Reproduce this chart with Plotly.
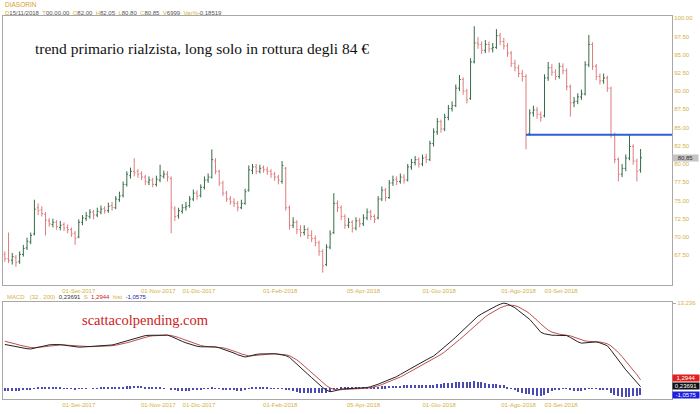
import plotly.graph_objects as go
import pandas as pd

# ---------------- data (one bar = 2 trading days) ----------------
start_date = "2017-07-07"

opens = [67.6, 67.0, 66.8, 67.2, 66.6, 67.6, 68.5, 69.3, 70.4, 74.0,
         73.7, 73.1, 72.2, 71.7, 72.0, 71.3, 71.7, 71.3, 71.0, 70.5,
         70.0, 72.0, 72.5, 72.8, 73.4, 73.0, 73.4, 73.9, 73.6, 74.3,
         74.0, 75.1, 75.7, 77.2, 78.4, 79.0, 79.0, 78.7, 78.2, 77.5,
         77.8, 77.2, 77.8, 78.3, 78.6, 78.0, 73.8, 72.9, 73.5, 74.0,
         74.3, 75.2, 76.0, 75.7, 76.8, 77.8, 78.2, 80.4, 79.0, 77.4,
         76.0, 75.2, 74.8, 74.6, 74.0, 74.6, 76.4, 79.1, 79.6, 79.0,
         79.5, 79.2, 79.0, 78.6, 78.2, 77.6, 79.4, 74.0, 71.6, 72.0,
         71.0, 70.6, 71.0, 70.2, 69.8, 69.2, 68.0, 66.2, 68.6, 70.6,
         74.6, 74.0, 72.8, 71.6, 72.0, 71.2, 72.2, 71.8, 72.6, 73.4,
         72.8, 72.6, 75.2, 76.4, 75.4, 77.4, 77.9, 77.6, 78.2, 77.8,
         79.6, 80.2, 80.6, 80.0, 80.9, 80.6, 82.8, 84.4, 85.8, 84.8,
         86.4, 87.6, 88.0, 90.4, 91.6, 90.0, 89.0, 94.0, 96.6, 96.4,
         95.6, 96.4, 95.8, 96.0, 97.6, 96.8, 96.2, 95.2, 93.8, 93.2,
         92.4, 92.0, 84.2, 87.0, 87.4, 86.8, 86.6, 91.8, 93.2, 92.6,
         92.0, 93.4, 92.8, 90.6, 88.4, 88.6, 89.2, 89.6, 93.6, 96.4,
         93.4, 92.0, 91.4, 91.8, 90.4, 84.0, 80.6, 78.6, 79.4, 80.8,
         82.4, 80.4, 79.2]

highs = [68.0, 70.6, 67.8, 67.5, 68.0, 68.9, 69.9, 70.6, 75.1, 74.6,
         74.2, 73.4, 72.6, 72.5, 72.3, 72.2, 72.0, 71.7, 71.3, 70.8,
         72.4, 73.0, 73.4, 73.8, 73.7, 74.0, 74.3, 74.2, 74.7, 74.8,
         75.6, 76.2, 77.6, 79.0, 79.5, 80.8, 79.3, 79.0, 78.5, 78.3,
         78.1, 78.4, 79.9, 79.1, 79.0, 78.3, 74.2, 74.0, 74.5, 74.8,
         75.6, 76.5, 76.4, 77.2, 78.3, 78.7, 82.0, 80.8, 79.2, 77.7,
         76.3, 75.6, 75.3, 74.9, 75.1, 76.6, 79.8, 80.0, 80.0, 79.9,
         79.8, 79.6, 79.3, 78.9, 78.5, 80.4, 79.6, 74.3, 72.7, 72.3,
         71.6, 71.6, 71.3, 70.9, 70.2, 69.5, 68.3, 69.0, 70.9, 76.0,
         75.0, 74.3, 73.1, 72.6, 72.3, 72.7, 72.6, 73.1, 73.9, 73.7,
         73.1, 75.6, 76.9, 76.7, 77.8, 78.4, 78.3, 78.7, 78.6, 80.0,
         80.7, 81.1, 80.9, 81.3, 81.4, 83.2, 84.9, 86.3, 86.1, 86.9,
         88.1, 88.6, 90.9, 92.2, 91.9, 90.3, 94.5, 98.9, 97.4, 96.8,
         97.0, 96.8, 96.6, 98.5, 98.0, 97.3, 96.6, 95.5, 94.3, 93.6,
         92.9, 92.3, 87.5, 88.0, 87.8, 87.2, 92.3, 94.0, 93.7, 93.0,
         93.9, 93.8, 93.1, 90.9, 89.2, 89.7, 90.2, 94.1, 97.7, 96.7,
         93.7, 92.4, 92.4, 92.1, 90.6, 84.3, 80.9, 80.0, 81.3, 84.1,
         82.7, 80.7, 82.05]

lows = [66.6, 66.4, 66.2, 65.9, 66.3, 67.3, 68.2, 69.0, 70.2, 73.0,
        72.8, 70.2, 71.4, 71.3, 71.0, 70.9, 70.8, 70.5, 70.0, 68.9,
        69.8, 71.6, 72.2, 72.5, 72.4, 72.7, 73.1, 73.2, 73.3, 73.6,
        73.8, 74.8, 75.4, 76.9, 78.0, 78.3, 78.1, 77.8, 77.1, 77.1,
        76.8, 76.9, 77.5, 78.0, 77.6, 70.5, 72.2, 72.5, 73.2, 73.6,
        74.0, 74.9, 75.1, 75.4, 76.5, 77.4, 78.0, 78.6, 77.0, 75.6,
        74.8, 74.4, 74.1, 73.5, 73.8, 74.4, 76.2, 78.6, 78.6, 78.7,
        78.8, 78.5, 78.1, 77.7, 77.2, 77.3, 73.6, 71.0, 71.2, 70.4,
        70.0, 70.2, 69.7, 69.3, 68.7, 67.4, 65.1, 66.0, 68.3, 70.4,
        73.4, 72.3, 71.1, 71.2, 70.6, 70.9, 71.3, 71.5, 72.3, 72.3,
        71.9, 72.4, 74.9, 74.9, 75.2, 77.0, 77.1, 77.3, 77.3, 77.6,
        79.2, 79.8, 79.5, 79.7, 80.1, 80.4, 82.4, 84.0, 84.3, 84.5,
        86.0, 87.2, 87.8, 90.0, 89.5, 88.3, 88.8, 93.8, 95.8, 95.1,
        95.2, 95.3, 95.3, 95.8, 96.3, 95.7, 94.7, 93.3, 92.7, 91.9,
        91.3, 82.0, 83.9, 86.5, 86.2, 85.8, 86.4, 91.4, 92.1, 91.5,
        91.7, 92.3, 90.1, 86.5, 87.8, 88.2, 88.8, 89.4, 93.3, 92.9,
        91.5, 90.9, 91.0, 89.9, 83.6, 80.1, 77.6, 78.2, 79.0, 80.5,
        79.9, 77.6, 78.8]

closes = [67.0, 66.8, 67.3, 66.5, 67.6, 68.4, 69.4, 70.2, 73.8, 73.6,
          73.2, 72.3, 71.8, 72.0, 71.4, 71.6, 71.2, 71.0, 70.4, 69.8,
          72.0, 72.6, 72.9, 73.4, 73.0, 73.5, 73.8, 73.6, 74.2, 74.0,
          75.2, 75.6, 77.2, 78.6, 79.0, 78.8, 78.6, 78.2, 77.6, 77.8,
          77.2, 77.9, 78.4, 78.6, 78.2, 74.0, 72.8, 73.6, 74.0, 74.2,
          75.2, 76.0, 75.6, 76.8, 77.8, 78.2, 80.6, 79.0, 77.4, 76.0,
          75.2, 74.8, 74.6, 74.0, 74.6, 76.2, 79.2, 79.6, 79.0, 79.4,
          79.2, 79.0, 78.6, 78.2, 77.8, 79.8, 74.0, 71.6, 72.0, 71.0,
          70.6, 71.0, 70.2, 69.8, 69.2, 68.0, 66.0, 68.6, 70.4, 74.6,
          74.0, 72.8, 71.6, 72.0, 71.2, 72.2, 71.8, 72.6, 73.4, 72.8,
          72.4, 75.2, 76.4, 75.4, 77.4, 77.8, 77.6, 78.2, 77.8, 79.6,
          80.2, 80.6, 80.0, 80.8, 80.6, 82.8, 84.4, 85.8, 84.8, 86.4,
          87.6, 88.0, 90.4, 91.6, 90.0, 88.8, 94.0, 96.6, 96.4, 95.6,
          96.4, 95.8, 96.0, 97.6, 96.8, 96.2, 95.2, 93.8, 93.2, 92.4,
          92.0, 84.0, 87.0, 87.4, 86.8, 86.4, 91.8, 93.2, 92.6, 92.0,
          93.4, 92.8, 90.6, 88.4, 88.6, 89.2, 89.6, 93.6, 96.4, 93.4,
          92.0, 91.4, 91.8, 90.4, 84.0, 80.6, 78.6, 79.4, 80.8, 82.4,
          80.4, 79.0, 80.85]

macd = [6.80, 6.68, 6.56, 6.44, 6.32, 6.22, 6.14, 6.10, 6.22, 6.40,
        6.55, 6.68, 6.74, 6.78, 6.80, 6.78, 6.70, 6.60, 6.50, 6.42,
        6.38, 6.40, 6.44, 6.46, 6.48, 6.50, 6.54, 6.58, 6.64, 6.72,
        6.86, 7.02, 7.18, 7.34, 7.52, 7.74, 7.94, 8.10, 8.18, 8.22,
        8.24, 8.25, 8.26, 8.27, 8.25, 8.05, 7.75, 7.50, 7.28, 7.05,
        6.84, 6.66, 6.52, 6.44, 6.42, 6.44, 6.48, 6.42, 6.28, 6.10,
        5.90, 5.70, 5.46, 5.20, 4.96, 4.84, 4.96, 5.14, 5.26, 5.32,
        5.34, 5.35, 5.36, 5.35, 5.28, 5.20, 5.06, 4.80, 4.30, 3.78,
        3.24, 2.70, 2.16, 1.64, 1.10, 0.60, 0.10, -0.30, -0.55, -0.45,
        -0.28, -0.15, -0.10, -0.08, -0.06, -0.04, -0.02, 0.00, 0.10, 0.24,
        0.40, 0.62, 0.86, 1.08, 1.32, 1.56, 1.80, 2.14, 2.48, 2.82,
        3.16, 3.50, 3.80, 4.10, 4.40, 4.70, 5.00, 5.46, 5.92, 6.40,
        6.90, 7.42, 7.94, 8.46, 9.00, 9.56, 10.12, 10.68, 11.20, 11.56,
        11.90, 12.22, 12.52, 12.80, 13.05, 13.236, 13.10, 12.85, 12.50, 12.05,
        11.60, 11.15, 10.70, 10.05, 9.38, 8.70, 8.45, 8.30, 8.24, 8.22,
        8.20, 8.20, 8.18, 7.90, 7.55, 7.22, 7.00, 7.06, 7.16, 7.22,
        7.20, 7.05, 6.85, 6.60, 5.90, 5.10, 4.30, 3.50, 2.85, 2.20,
        1.60, 0.90, 0.23691]

signal = [7.30, 7.18, 7.02, 6.86, 6.70, 6.55, 6.42, 6.32, 6.30, 6.32,
          6.38, 6.46, 6.54, 6.62, 6.68, 6.72, 6.72, 6.68, 6.62, 6.56,
          6.50, 6.47, 6.46, 6.46, 6.47, 6.48, 6.50, 6.52, 6.55, 6.60,
          6.68, 6.78, 6.92, 7.06, 7.22, 7.40, 7.60, 7.78, 7.94, 8.06,
          8.14, 8.19, 8.22, 8.24, 8.25, 8.20, 8.06, 7.88, 7.66, 7.44,
          7.22, 7.00, 6.80, 6.64, 6.52, 6.46, 6.44, 6.44, 6.38, 6.28,
          6.14, 5.98, 5.78, 5.56, 5.32, 5.12, 5.02, 5.04, 5.12, 5.20,
          5.26, 5.30, 5.33, 5.34, 5.32, 5.28, 5.20, 5.06, 4.78, 4.40,
          3.94, 3.44, 2.92, 2.40, 1.88, 1.36, 0.86, 0.40, 0.04, -0.18,
          -0.26, -0.24, -0.20, -0.16, -0.12, -0.09, -0.06, -0.04, 0.00, 0.08,
          0.20, 0.36, 0.56, 0.78, 1.00, 1.24, 1.48, 1.74, 2.04, 2.36,
          2.68, 3.00, 3.32, 3.62, 3.92, 4.22, 4.52, 4.86, 5.24, 5.66,
          6.10, 6.56, 7.04, 7.54, 8.04, 8.56, 9.08, 9.62, 10.16, 10.66,
          11.10, 11.50, 11.86, 12.18, 12.48, 12.72, 12.88, 12.90, 12.82, 12.62,
          12.34, 11.98, 11.58, 11.10, 10.56, 9.98, 9.44, 9.02, 8.72, 8.52,
          8.40, 8.32, 8.26, 8.14, 7.94, 7.70, 7.48, 7.34, 7.28, 7.26,
          7.24, 7.18, 7.06, 6.90, 6.58, 6.12, 5.54, 4.90, 4.24, 3.56,
          2.86, 2.10, 1.2944]

hist = [m - s for m, s in zip(macd, signal)]

support_level = 84.0
support_start_bar = 141

tick_dates = ["2017-09-01", "2017-11-01", "2017-12-01", "2018-02-01",
              "2018-04-05", "2018-06-01", "2018-08-01", "2018-09-03"]
tick_labels = ["01-Set-2017", "01-Nov-2017", "01-Dic-2017", "01-Feb-2018",
               "05-Apr-2018", "01-Giu-2018", "01-Ago-2018", "03-Set-2018"]

price_ticks = [67.5, 70.0, 72.5, 75.0, 77.5, 80.0, 82.5, 85.0,
               87.5, 90.0, 92.5, 95.0, 97.5, 100.0]

header_keys = ["D", "T", "O", "H", "L", "C", "V", "Var%"]
header_vals = ["15/11/2018", "00.00.00", "82,00", "82,05", "80,80", "80,85", "6999", "-0,18519"]

# ---------------- styling ----------------
GOLD = "#d6b043"
UP = "#356b48"
DOWN = "#e07b7b"
BORDER = "#a8a8a8"
FONT = "Liberation Sans"
TICKFONT = dict(size=6, color=GOLD, family=FONT)

dates = pd.bdate_range(start_date, periods=len(closes), freq="2B")
x_start = pd.Timestamp("2017-07-06")
x_end = x_start + pd.offsets.BDay(362)

fig = go.Figure()

fig.add_trace(go.Ohlc(
    x=dates, open=opens, high=highs, low=lows, close=closes,
    xaxis="x", yaxis="y",
    increasing=dict(line=dict(color=UP, width=1)),
    decreasing=dict(line=dict(color=DOWN, width=1)),
    tickwidth=0.35, showlegend=False, hoverinfo="skip"))

fig.add_trace(go.Scatter(
    x=[dates[support_start_bar], x_end], y=[support_level, support_level],
    mode="lines", line=dict(color="#2c5fd6", width=2),
    xaxis="x", yaxis="y", showlegend=False, hoverinfo="skip"))

fig.add_trace(go.Bar(
    x=dates, y=hist, marker=dict(color="#4a4ab4", line=dict(width=0)),
    width=0.8 * 86400000, xaxis="x2", yaxis="y2",
    showlegend=False, hoverinfo="skip"))

fig.add_trace(go.Scatter(
    x=dates, y=signal, mode="lines", line=dict(color="#c0504d", width=1),
    xaxis="x2", yaxis="y2", showlegend=False, hoverinfo="skip"))
fig.add_trace(go.Scatter(
    x=dates, y=macd, mode="lines", line=dict(color="#222222", width=1),
    xaxis="x2", yaxis="y2", showlegend=False, hoverinfo="skip"))

axis_common = dict(showline=True, mirror=True, linecolor=BORDER, linewidth=1,
                   showgrid=False, zeroline=False, automargin=False)

top_dom = [(399 - 285) / 383, 1.0]
bot_dom = [0.0, (399 - 302) / 383]

fig.update_layout(
    width=700, height=414,
    margin=dict(l=3, r=28, t=16, b=15, autoexpand=False),
    paper_bgcolor="white", plot_bgcolor="white",
    font=dict(family=FONT, size=7, color=GOLD),
    bargap=0,
    xaxis=dict(domain=[0, 1], anchor="y", type="date", range=[x_start, x_end],
               rangebreaks=[dict(bounds=["sat", "mon"])],
               rangeslider=dict(visible=False),
               tickvals=tick_dates, ticktext=tick_labels, ticks="", tickangle=0,
               tickfont=TICKFONT, **axis_common),
    xaxis2=dict(domain=[0, 1], anchor="y2", type="date", matches="x",
                rangebreaks=[dict(bounds=["sat", "mon"])],
                tickvals=tick_dates, ticktext=tick_labels, ticks="", tickangle=0,
                tickfont=TICKFONT, **axis_common),
    yaxis=dict(domain=top_dom, anchor="x", side="right", range=[63.4, 100.3],
               tickvals=price_ticks, ticktext=["%.2f" % v for v in price_ticks],
               ticks="", tickfont=TICKFONT, **axis_common),
    yaxis2=dict(domain=bot_dom, anchor="x2", side="right", range=[-1.68, 13.4],
                tickvals=[max(macd)], ticktext=["%.3f" % max(macd)],
                ticks="outside", ticklen=3, tickcolor=BORDER,
                tickfont=TICKFONT, **axis_common),
)

def py(p):
    return (399 - p) / 383

header_html = "&nbsp;&nbsp;".join(
    '<span style="color:%s">%s</span><span style="color:#555555">%s</span>' % (GOLD, k, v)
    for k, v in zip(header_keys, header_vals))

macd_html = ('<span style="color:%s">MACD&nbsp;&nbsp;&nbsp;(32 , 200)</span>&nbsp;&nbsp;'
             '<span style="color:#333333">%s</span>&nbsp;&nbsp;'
             '<span style="color:%s">S</span>&nbsp;&nbsp;'
             '<span style="color:#cc2222">%s</span>&nbsp;&nbsp;'
             '<span style="color:%s">hist</span>&nbsp;&nbsp;'
             '<span style="color:#2222aa">%s</span>') % (
    GOLD, ("%.5f" % macd[-1]).replace(".", ","), GOLD,
    ("%.4f" % signal[-1]).replace(".", ","), GOLD,
    ("%.4f" % (macd[-1] - signal[-1])).replace(".", ","))

annotations = [
    dict(text="DIASORIN", x=0, y=py(5), xref="paper", yref="paper",
         xanchor="left", yanchor="middle", showarrow=False,
         font=dict(size=6.5, color="#d4a02a", family=FONT)),
    dict(text=header_html, x=0, y=py(12.5), xref="paper", yref="paper",
         xanchor="left", yanchor="middle", showarrow=False,
         font=dict(size=6, family=FONT)),
    dict(text="trend primario rialzista, long solo in rottura degli 84 €",
         x=(33 - 3) / 669, y=py(49), xref="paper", yref="paper",
         xanchor="left", yanchor="middle", showarrow=False,
         font=dict(size=15.5, color="#111111", family="Liberation Serif")),
    dict(text="scattacolpending.com", x=(80 - 3) / 669, y=py(320),
         xref="paper", yref="paper", xanchor="left", yanchor="middle",
         showarrow=False,
         font=dict(size=14.5, color="#cc2222", family="Liberation Serif")),
    dict(text=macd_html, x=(5 - 3) / 669, y=py(297), xref="paper", yref="paper",
         xanchor="left", yanchor="middle", showarrow=False,
         font=dict(size=6, family=FONT)),
    dict(text=("%.2f" % closes[-1]).replace(".", ","), x=1.0, y=closes[-1],
         xref="paper", yref="y", xanchor="left", yanchor="middle",
         showarrow=False, bgcolor="#c4c4c4", borderpad=0, width=25,
         font=dict(size=6, color="#333333", family=FONT)),
    dict(text=("%.4f" % signal[-1]).replace(".", ","), x=1.0, y=1.6,
         xref="paper", yref="y2", xanchor="left", yanchor="middle",
         showarrow=False, bgcolor="#e02020", borderpad=0, width=26,
         font=dict(size=6, color="white", family=FONT)),
    dict(text=("%.5f" % macd[-1]).replace(".", ","), x=1.0, y=0.3,
         xref="paper", yref="y2", xanchor="left", yanchor="middle",
         showarrow=False, bgcolor="#111111", borderpad=0, width=26,
         font=dict(size=6, color="white", family=FONT)),
    dict(text=("%.4f" % (macd[-1] - signal[-1])).replace(".", ","), x=1.0, y=-1.0,
         xref="paper", yref="y2", xanchor="left", yanchor="middle",
         showarrow=False, bgcolor="#1e1ee0", borderpad=0, width=26,
         font=dict(size=6, color="white", family=FONT)),
]
fig.update_layout(annotations=annotations)

fig.write_html("out.html",
               config={"displayModeBar": False},
               post_script="document.body.style.margin='0px';document.body.style.padding='0px';")
